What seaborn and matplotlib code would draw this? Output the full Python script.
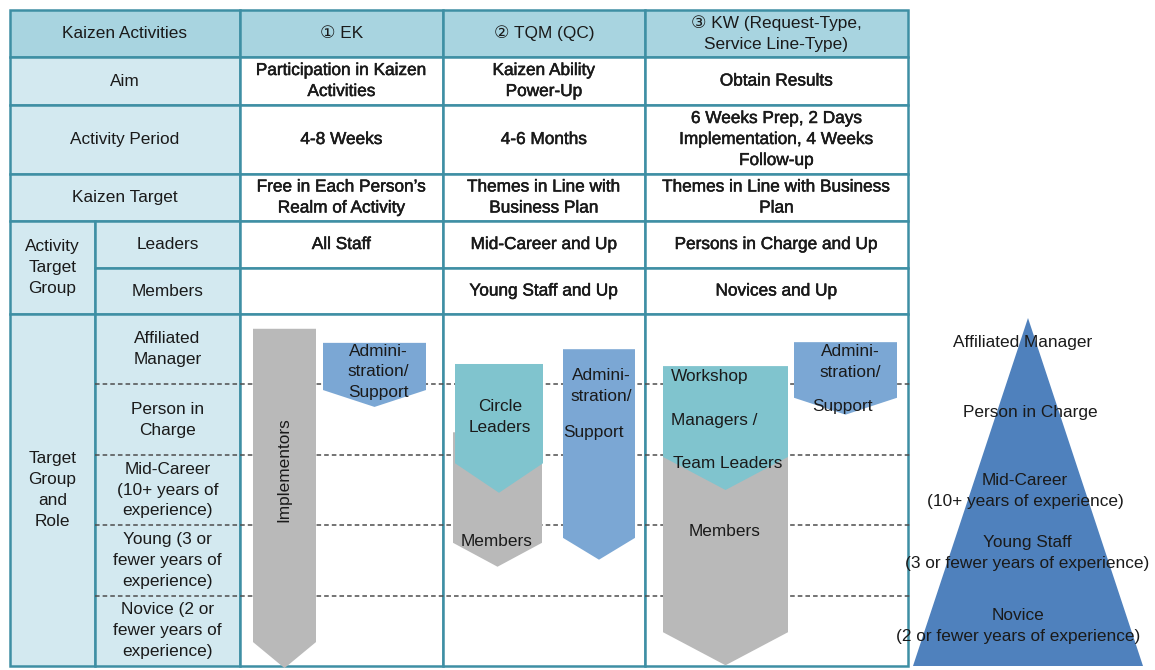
import matplotlib
matplotlib.use("Agg")
import matplotlib.pyplot as plt
import matplotlib.patheffects as pe
from matplotlib.patches import Rectangle, Polygon
import seaborn as sns

# ---------------------------------------------------------
# TABLE CONTENT
# ---------------------------------------------------------
header_labels = ["Kaizen Activities", "① EK", "② TQM (QC)",
                 "③ KW (Request-Type,\nService Line-Type)"]
row_titles = ["Aim", "Activity Period", "Kaizen Target"]
aim_values = ["Participation in Kaizen\nActivities", "Kaizen Ability\nPower-Up", "Obtain Results"]
period_values = ["4-8 Weeks", "4-6 Months",
                 "6 Weeks Prep, 2 Days\nImplementation, 4 Weeks\nFollow-up"]
target_values = ["Free in Each Person’s\nRealm of Activity", "Themes in Line with\nBusiness Plan",
                 "Themes in Line with Business\nPlan"]
group_title = "Activity\nTarget\nGroup"
group_rows = ["Leaders", "Members"]
leader_values = ["All Staff", "Mid-Career and Up", "Persons in Charge and Up"]
member_values = ["", "Young Staff and Up", "Novices and Up"]
role_title = "Target\nGroup\nand\nRole"
role_levels = ["Affiliated\nManager", "Person in\nCharge", "Mid-Career\n(10+ years of\nexperience)",
               "Young (3 or\nfewer years of\nexperience)", "Novice (2 or\nfewer years of\nexperience)"]
pyramid_labels = ["Affiliated Manager", "Person in Charge", "Mid-Career\n(10+ years of experience)",
                  "Young Staff\n(3 or fewer years of experience)", "Novice\n(2 or fewer years of experience)"]

# role arrows: (x0, x1, top, body end, tip) with y in role-level units
arrow_kind = ["gray", "blue", "gray", "teal", "blue", "gray", "teal", "blue"]
arrow_x = [(253, 316), (323, 426), (453, 542), (455, 543), (563, 635), (663, 788), (663, 788), (794, 897)]
arrow_y = [(0.21, 4.66, 5.03), (0.41, 1.08, 1.32), (1.68, 3.25, 3.59), (0.71, 2.12, 2.54),
           (0.50, 3.18, 3.49), (1.50, 4.52, 4.99), (0.74, 2.03, 2.50), (0.40, 1.19, 1.43)]

# ---------------------------------------------------------
# STYLE
# ---------------------------------------------------------
sns.set_theme(style="white")
plt.rcParams["font.family"] = ["Liberation Sans", "DejaVu Sans"]

border = "#3e8fa4"
head_fill = "#a8d4e0"
label_fill = "#d3e9f0"
colors = {"gray": "#b9b9b9", "teal": "#80c4ce", "blue": "#7ba7d4"}
pyramid_color = "#4f81bd"
fs = 12.4
ls = 1.5

col_x = [10, 240, 443, 645, 908]
sub_x = 95
row_y = [10, 57, 105, 174, 221, 268, 314]
role_top, role_bottom = 314, 666
lvl_h = (role_bottom - role_top) / len(role_levels)


def lvl(v):
    return role_top + v * lvl_h


fig = plt.figure(figsize=(11.55, 6.7), dpi=100)
ax = fig.add_axes([0, 0, 1, 1])
ax.set_xlim(0, 1155)
ax.set_ylim(670, 0)
ax.axis("off")

bold = [pe.withStroke(linewidth=0.35, foreground="#111111")]


def cell(x0, y0, x1, y1, fill, text="", bold_text=False):
    ax.add_patch(Rectangle((x0, y0), x1 - x0, y1 - y0, facecolor=fill,
                           edgecolor=border, linewidth=1.8, zorder=1))
    if text:
        ax.text((x0 + x1) / 2, (y0 + y1) / 2, text,
                ha="center", va="center", fontsize=fs, color="#1a1a1a",
                linespacing=ls, zorder=5,
                path_effects=bold if bold_text else None)


# header row
for i, lab in enumerate(header_labels):
    cell(col_x[i], row_y[0], col_x[i + 1], row_y[1], head_fill, lab)

# simple rows
for r, (title, vals) in enumerate(zip(row_titles, [aim_values, period_values, target_values])):
    cell(col_x[0], row_y[r + 1], col_x[1], row_y[r + 2], label_fill, title)
    for c, v in enumerate(vals):
        cell(col_x[c + 1], row_y[r + 1], col_x[c + 2], row_y[r + 2], "white", v, True)

# activity target group
cell(col_x[0], row_y[4], sub_x, row_y[6], label_fill, group_title)
for r, (title, vals) in enumerate(zip(group_rows, [leader_values, member_values])):
    cell(sub_x, row_y[r + 4], col_x[1], row_y[r + 5], label_fill, title)
    for c, v in enumerate(vals):
        cell(col_x[c + 1], row_y[r + 4], col_x[c + 2], row_y[r + 5], "white", v, True)

# target group and role
cell(col_x[0], role_top, sub_x, role_bottom, label_fill, role_title)
cell(sub_x, role_top, col_x[1], role_bottom, label_fill)
for c in range(3):
    cell(col_x[c + 1], role_top, col_x[c + 2], role_bottom, "white")
for i, lab in enumerate(role_levels):
    ax.text((sub_x + col_x[1]) / 2, lvl(i + 0.5), lab, ha="center", va="center",
            fontsize=fs, color="#1a1a1a", linespacing=ls, zorder=5)
for i in range(1, len(role_levels)):
    ax.plot([sub_x, 912], [lvl(i), lvl(i)], color="#4d4d4d", linewidth=1.1,
            dashes=(3, 2), zorder=2)

# arrows
for kind, (x0, x1), (t, b, tip) in zip(arrow_kind, arrow_x, arrow_y):
    pts = [(x0, lvl(t)), (x1, lvl(t)), (x1, lvl(b)), ((x0 + x1) / 2, lvl(tip)), (x0, lvl(b))]
    ax.add_patch(Polygon(pts, closed=True, facecolor=colors[kind], edgecolor="none", zorder=3))

txt = dict(fontsize=fs, color="#1a1a1a", linespacing=ls, zorder=6)
ax.text(284, 470, "Implementors", rotation=90, ha="center", va="center", **txt)
ax.text(378, 372, "Admini-\nstration/\nSupport", ha="center", va="center", **txt)
ax.text(500, 417, "Circle\nLeaders", ha="center", va="center", **txt)
ax.text(497, 541, "Members", ha="center", va="center", **txt)
ax.text(601, 386, "Admini-\nstration/", ha="center", va="center", **txt)
ax.text(593, 433, "Support", ha="center", va="center", **txt)
ax.text(671, 376, "Workshop", ha="left", va="center", **txt)
ax.text(671, 421, "Managers /", ha="left", va="center", **txt)
ax.text(673, 464, "Team Leaders", ha="left", va="center", **txt)
ax.text(725, 531, "Members", ha="center", va="center", **txt)
ax.text(850, 362, "Admini-\nstration/", ha="center", va="center", **txt)
ax.text(842, 406, "Support", ha="center", va="center", **txt)

# pyramid
ax.add_patch(Polygon([(1028, 318), (1143, 666), (913, 666)], closed=True,
                     facecolor=pyramid_color, edgecolor="none", zorder=3))
pyr_y = [343, 412, 491, 553, 626]
pyr_x = [1023, 1030, 1025, 1027, 1018]
for x, y, lab in zip(pyr_x, pyr_y, pyramid_labels):
    ax.text(x, y, lab, ha="center", va="center", fontsize=fs, color="#1a1a1a",
            linespacing=ls, zorder=6)

fig.savefig("out.png", dpi=100)
